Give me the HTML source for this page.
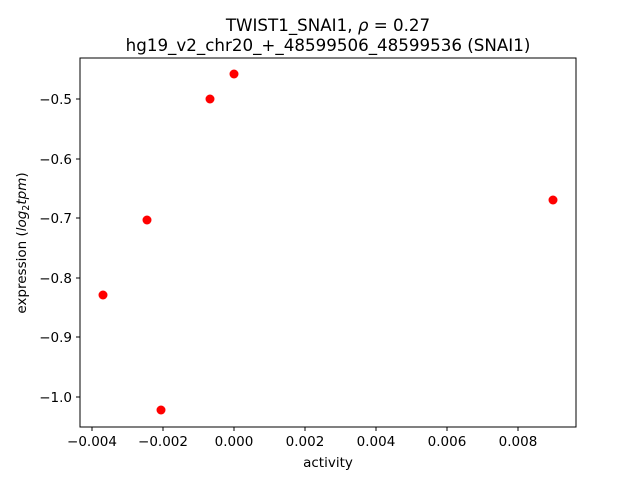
<!DOCTYPE html>
<html><head><meta charset="utf-8"><style>
html,body{margin:0;padding:0;background:#fff;}
text{font-family:"DejaVu Sans","Liberation Sans",sans-serif;fill:#000;}
</style></head><body>
<svg width="640" height="480" viewBox="0 0 640 480" xmlns="http://www.w3.org/2000/svg">
<rect width="640" height="480" fill="#fff"/>
<text x="328" y="31" font-size="16.7" text-anchor="middle">TWIST1_SNAI1, <tspan font-style="italic">ρ</tspan> = 0.27</text>
<text x="328" y="51" font-size="16.7" text-anchor="middle">hg19_v2_chr20_+_48599506_48599536 (SNAI1)</text>
<rect x="80" y="58" width="496" height="369" fill="none" stroke="#000" stroke-width="1"/>
<g stroke="#000" stroke-width="1">
<line x1="92" y1="427" x2="92" y2="431"/>
<line x1="163" y1="427" x2="163" y2="431"/>
<line x1="234" y1="427" x2="234" y2="431"/>
<line x1="305" y1="427" x2="305" y2="431"/>
<line x1="376" y1="427" x2="376" y2="431"/>
<line x1="447" y1="427" x2="447" y2="431"/>
<line x1="518" y1="427" x2="518" y2="431"/>
<line x1="76" y1="99" x2="80" y2="99"/>
<line x1="76" y1="159" x2="80" y2="159"/>
<line x1="76" y1="218" x2="80" y2="218"/>
<line x1="76" y1="278" x2="80" y2="278"/>
<line x1="76" y1="337" x2="80" y2="337"/>
<line x1="76" y1="397" x2="80" y2="397"/>
</g>
<g font-size="13.5" text-anchor="middle">
<text x="92" y="446">−0.004</text>
<text x="163" y="446">−0.002</text>
<text x="234" y="446">0.000</text>
<text x="305" y="446">0.002</text>
<text x="376" y="446">0.004</text>
<text x="447" y="446">0.006</text>
<text x="518" y="446">0.008</text>
</g>
<g font-size="13.5" text-anchor="end">
<text x="72" y="104">−0.5</text>
<text x="72" y="164">−0.6</text>
<text x="72" y="223">−0.7</text>
<text x="72" y="283">−0.8</text>
<text x="72" y="342">−0.9</text>
<text x="72" y="402">−1.0</text>
</g>
<text x="328" y="467" font-size="13.5" text-anchor="middle">activity</text>
<text transform="translate(26,243) rotate(-90)" font-size="13.5" text-anchor="middle">expression (<tspan font-style="italic">log</tspan><tspan font-size="9.5" dy="3">2</tspan><tspan dy="-3" font-style="italic">tpm</tspan>)</text>
<g fill="#ff0000">
<circle cx="234" cy="74" r="4.5"/>
<circle cx="210" cy="99" r="4.5"/>
<circle cx="147" cy="220" r="4.5"/>
<circle cx="103" cy="295" r="4.5"/>
<circle cx="161" cy="410" r="4.5"/>
<circle cx="553" cy="200" r="4.5"/>
</g>
</svg>
</body></html>
